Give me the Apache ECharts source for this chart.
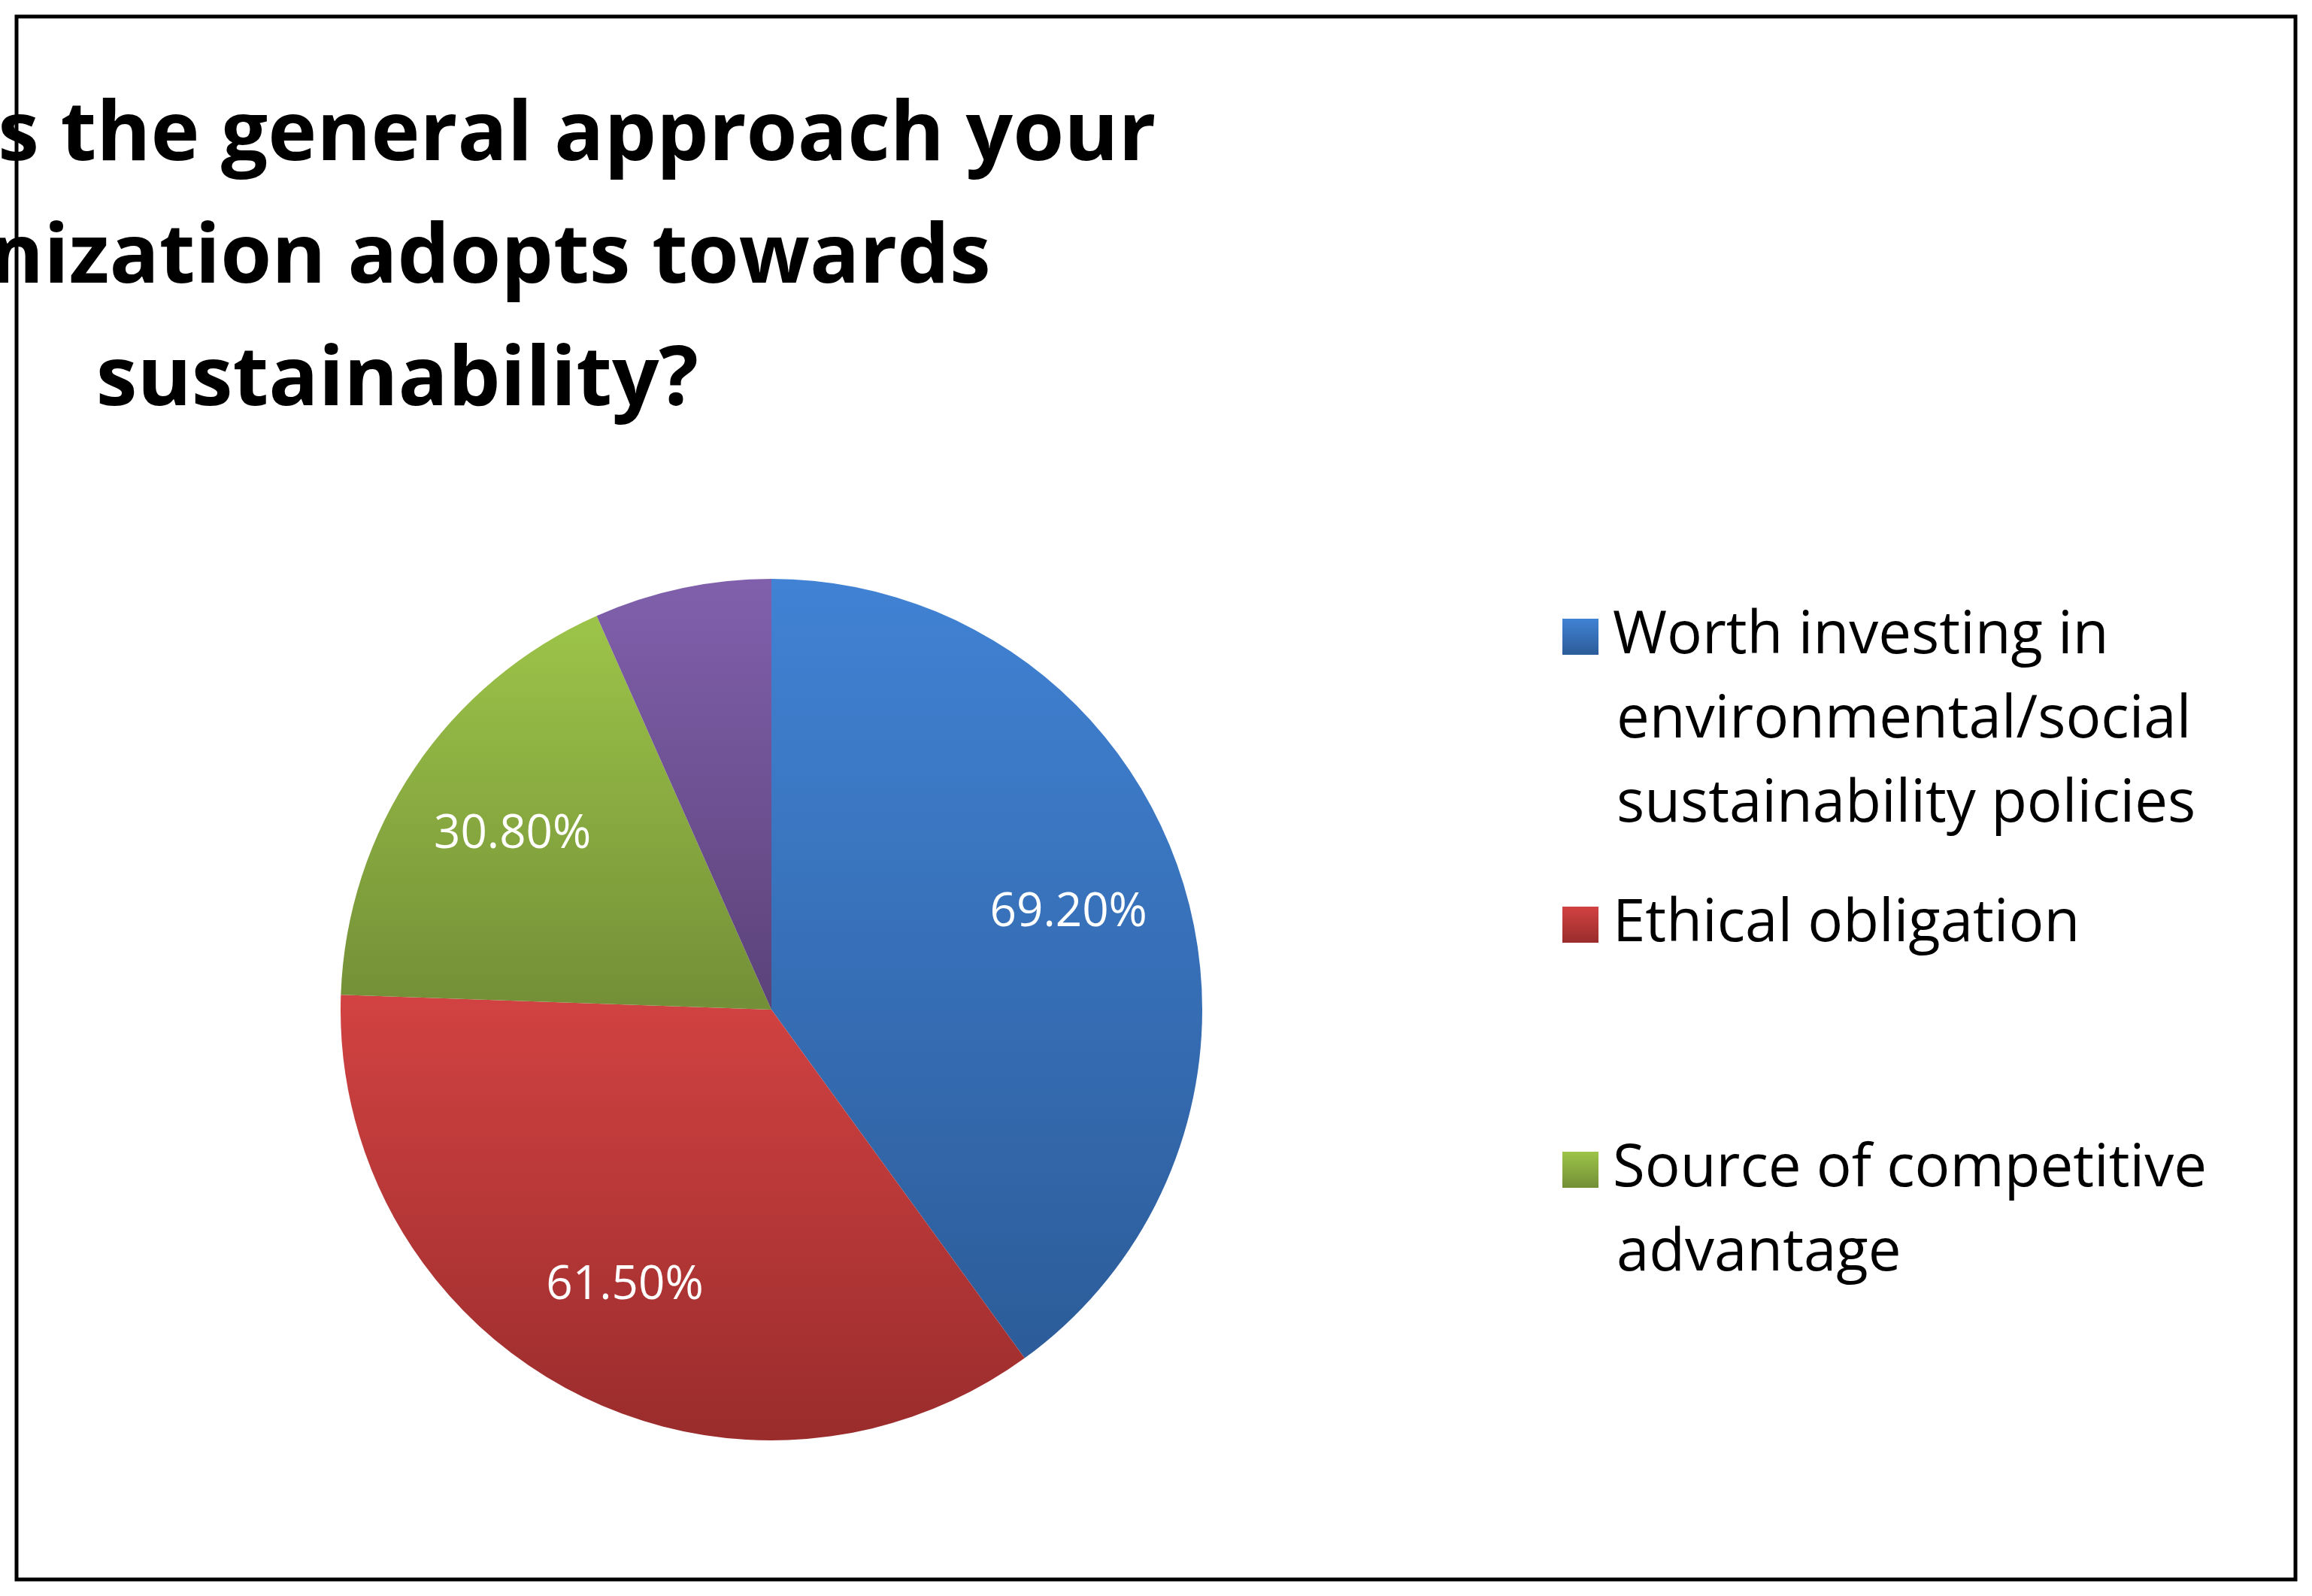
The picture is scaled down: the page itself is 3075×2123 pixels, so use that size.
<!DOCTYPE html>
<html><head><meta charset="utf-8">
<script src="https://cdn.jsdelivr.net/npm/echarts@6/dist/echarts.min.js"></script>
<style>html,body{margin:0;padding:0;background:#fff}#c{width:3075px;height:2123px}</style>
</head><body><div id="c"></div>
<script>
const categories = ['Worth investing in', 'Ethical obligation', 'Source of competitive', 'Other'];
const continuation = ['environmental/social\nsustainability policies', '', 'advantage', ''];
const values = [69.2, 61.5, 30.8, 11.5];
const labels = ['69.20%', '61.50%', '30.80%', ''];
const colorsTop = ['#4182D4', '#D24242', '#9DC449', '#8060AC'];
const colorsBot = ['#2C5C99', '#9A2C2C', '#738F37', '#5B4279'];

const chart = echarts.init(document.getElementById('c'));
const font = '"Open Sans", "Noto Sans", sans-serif';
const legendCenters = [847, 1230, 1556];
const graphics = [{type: 'rect', shape: {x: 22, y: 22, width: 3031, height: 2079}, style: {fill: 'none', stroke: '#000', lineWidth: 5}}];
[0, 1, 2].forEach(i => {
  if (continuation[i]) graphics.push({type: 'text', left: 2150, top: legendCenters[i] + 56,
    style: {text: continuation[i], font: '78px ' + font, lineHeight: 112, fill: '#000'}});
});
chart.setOption({
  backgroundColor: '#fff',
  animation: false,
  title: {
    text: '4. What is the general approach your\norganization adopts towards\nsustainability?',
    left: 'center', top: 95, textAlign: 'center',
    textStyle: {fontFamily: font, fontWeight: 'bold', fontSize: 110, lineHeight: 163, color: '#000'}
  },
  graphic: graphics,
  legend: [0, 1, 2].map(i => ({
    data: [categories[i]], left: 2078, top: legendCenters[i] - 56, orient: 'vertical',
    itemWidth: 48, itemHeight: 48, icon: 'rect', padding: 0,
    textStyle: {fontFamily: font, fontSize: 78, lineHeight: 112, color: '#000', padding: [0, 0, 0, 14]}
  })),
  series: [{
    type: 'pie', center: [1026, 1343], radius: 573, startAngle: 90, clockwise: true,
    data: values.map((v, i) => ({
      name: categories[i], value: v,
      itemStyle: {color: {type: 'linear', x: 0, y: 0, x2: 0, y2: 1, colorStops: [{offset: 0, color: colorsTop[i]}, {offset: 1, color: colorsBot[i]}]}}
    })),
    label: {show: false}, labelLine: {show: false}, itemStyle: {borderWidth: 0}
  }, {
    type: 'pie', center: [1026, 1343], radius: 825, startAngle: 90, clockwise: true, silent: true, z: 5,
    data: values.map((v, i) => ({name: categories[i], value: v, itemStyle: {color: 'rgba(0,0,0,0)'},
      label: {show: labels[i] !== '', formatter: labels[i]}})),
    label: {position: 'inside', color: '#fff', fontFamily: font, fontSize: 62},
    labelLine: {show: false}, legendHoverLink: false
  }]
});
</script></body></html>
